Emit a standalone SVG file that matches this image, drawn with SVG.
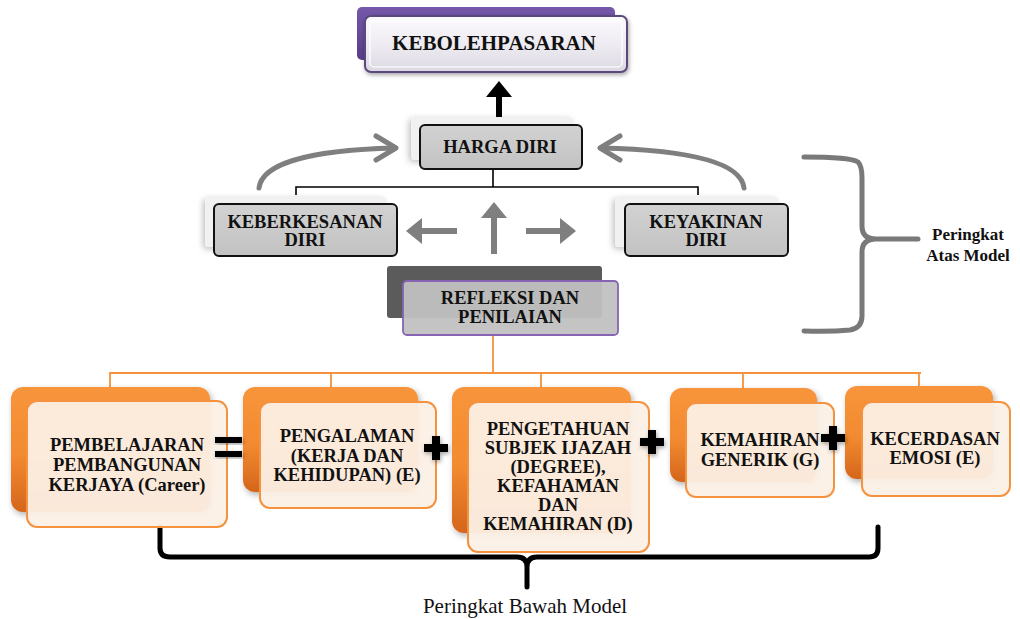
<svg xmlns="http://www.w3.org/2000/svg" width="1020" height="619" viewBox="0 0 1020 619">
<defs>
<linearGradient id="gOr" x1="0" y1="0" x2="0" y2="1"><stop offset="0" stop-color="#f8953b"/><stop offset="0.55" stop-color="#f28a30"/><stop offset="1" stop-color="#d4661c"/></linearGradient>
<linearGradient id="gPur" x1="0" y1="0" x2="0" y2="1"><stop offset="0" stop-color="#7658aa"/><stop offset="1" stop-color="#583c8a"/></linearGradient>
<linearGradient id="gTop" x1="0" y1="0" x2="0" y2="1"><stop offset="0" stop-color="#fbfafd"/><stop offset="0.5" stop-color="#eeecf2"/><stop offset="1" stop-color="#dcd8e3"/></linearGradient>
<linearGradient id="gGray" x1="0" y1="0" x2="0" y2="1"><stop offset="0" stop-color="#d2d2d2"/><stop offset="1" stop-color="#c2c2c2"/></linearGradient>
<filter id="sh" x="-20%" y="-20%" width="140%" height="150%"><feDropShadow dx="2" dy="3" stdDeviation="3" flood-color="#000" flood-opacity="0.3"/></filter>
<filter id="shs" x="-20%" y="-20%" width="140%" height="150%"><feDropShadow dx="1" dy="2" stdDeviation="2" flood-color="#000" flood-opacity="0.35"/></filter>
<filter id="glow" x="-20%" y="-30%" width="140%" height="160%"><feDropShadow dx="-2" dy="2" stdDeviation="3" flood-color="#000" flood-opacity="0.25"/></filter>
</defs>
<style>
.t{font-family:"Liberation Serif","Times New Roman",serif;font-weight:bold;font-size:18.5px;fill:#111;text-anchor:middle}
.ob{fill:url(#gOr);filter:url(#sh)}
.of{fill:#fcf0e6;fill-opacity:0.94;stroke:#f5923f;stroke-width:2}
.gb{fill:#f1f1f1;filter:url(#glow)}
.gf{fill:url(#gGray);stroke:#111;stroke-width:2}
.blk{fill:none;stroke:#000;stroke-width:1.6}
.org{fill:none;stroke:#f5923f;stroke-width:1.8}
.ga{fill:none;stroke:#7f7f7f;stroke-width:5;stroke-linecap:round;stroke-linejoin:round}
.gt{fill:#7f7f7f}
.op{fill:#000;filter:url(#shs)}
</style>

<g id="connectors">
  <rect x="496" y="96" width="6" height="22" fill="#000"/>
  <polygon points="499,81 486,97 512,97" fill="#000"/>
  <path class="blk" d="M493,169 V187 M296,195 V187 H698 V195"/>
  <path class="ga" d="M259,188 C262,162 315,150 394,148"/>
  <path class="ga" d="M376,136 L396,148 L376,160"/>
  <path class="ga" d="M744,188 C741,162 688,150 601,148"/>
  <path class="ga" d="M620,136 L600,148 L620,160"/>
  <rect class="gt" x="420" y="228" width="37" height="6"/>
  <polygon class="gt" points="406,231 422,218 422,244"/>
  <rect class="gt" x="491" y="217" width="6" height="37"/>
  <polygon class="gt" points="494,202 481,218 507,218"/>
  <rect class="gt" x="526" y="228" width="35" height="6"/>
  <polygon class="gt" points="576,231 560,218 560,244"/>
  <path class="org" d="M493,335 V373 M110,387 V373 H921 M331,373 V387 M541,373 V387 M743,373 V388 M919,373 V386"/>
  <path fill="none" stroke="#797979" stroke-width="5" stroke-linecap="round" d="M804,157 Q850,157 858,162 Q862,166 862,178 V226 Q862,239 876,239 H918 M876,239 Q862,239 862,252 V316 Q862,328 850,330 Q830,332 804,331"/>
  <path fill="none" stroke="#000" stroke-width="5" stroke-linecap="round" d="M160,527 V548 Q160,557 170,557 H517 Q527,557 527,567 V587 M527,567 Q527,557 537,557 H869 Q878,557 878,548 V527"/>
</g>

<g id="kebolehpasaran">
  <rect x="357" y="7" width="258" height="53" rx="5" fill="url(#gPur)"/>
  <rect x="365" y="16" width="262" height="56" rx="6" fill="url(#gTop)" stroke="#5a4a7c" stroke-width="2" filter="url(#shs)"/>
  <rect x="370" y="21" width="252" height="46" rx="4" fill="none" stroke="#ffffff" stroke-width="1.5" opacity="0.8"/>
  <text class="t" x="494" y="50" style="font-size:21px">KEBOLEHPASARAN</text>
</g>

<g id="harga-diri">
  <rect class="gb" x="411" y="117" width="162" height="43" rx="4"/>
  <rect class="gf" x="420" y="125" width="162" height="44" rx="5"/>
  <text class="t" x="500" y="153">HARGA DIRI</text>
</g>

<g id="keberkesanan-diri">
  <rect class="gb" x="205" y="197" width="181" height="50" rx="4"/>
  <rect class="gf" x="214" y="204" width="183" height="52" rx="5"/>
  <text class="t" x="305" y="228">KEBERKESANAN</text>
  <text class="t" x="305" y="246">DIRI</text>
</g>

<g id="keyakinan-diri">
  <rect class="gb" x="615" y="197" width="163" height="50" rx="4"/>
  <rect class="gf" x="625" y="204" width="163" height="52" rx="5"/>
  <text class="t" x="706" y="228">KEYAKINAN</text>
  <text class="t" x="706" y="246">DIRI</text>
</g>

<g id="refleksi">
  <rect x="387" y="266" width="215" height="52" rx="3" fill="#5b5b5b"/>
  <rect x="403" y="281" width="215" height="54" rx="4" fill="#c1c1c1" fill-opacity="0.95" stroke="#8664b4" stroke-width="1.8"/>
  <text class="t" x="510" y="304">REFLEKSI DAN</text>
  <text class="t" x="510" y="323">PENILAIAN</text>
</g>

<g id="pembelajaran">
  <rect class="ob" x="11" y="387" width="199" height="125" rx="12"/>
  <rect class="of" x="27" y="401" width="200" height="126" rx="10"/>
  <text class="t" x="127" y="451">PEMBELAJARAN</text>
  <text class="t" x="127" y="471">PEMBANGUNAN</text>
  <text class="t" x="127" y="491">KERJAYA (Career)</text>
</g>

<g id="pengalaman">
  <rect class="ob" x="243" y="387" width="175" height="105" rx="12"/>
  <rect class="of" x="260" y="402" width="176" height="106" rx="10"/>
  <text class="t" x="347" y="442">PENGALAMAN</text>
  <text class="t" x="347" y="462">(KERJA DAN</text>
  <text class="t" x="347" y="481">KEHIDUPAN) (E)</text>
</g>

<g id="pengetahuan">
  <rect class="ob" x="452" y="387" width="179" height="146" rx="12"/>
  <rect class="of" x="468" y="402" width="181" height="150" rx="10"/>
  <text class="t" x="558" y="435">PENGETAHUAN</text>
  <text class="t" x="558" y="454">SUBJEK IJAZAH</text>
  <text class="t" x="558" y="473">(DEGREE),</text>
  <text class="t" x="558" y="492">KEFAHAMAN</text>
  <text class="t" x="558" y="511">DAN</text>
  <text class="t" x="558" y="530">KEMAHIRAN (D)</text>
</g>

<g id="kemahiran-generik">
  <rect class="ob" x="670" y="388" width="147" height="94" rx="12"/>
  <rect class="of" x="686" y="403" width="148" height="94" rx="10"/>
  <text class="t" x="760" y="446">KEMAHIRAN</text>
  <text class="t" x="760" y="466">GENERIK (G)</text>
</g>

<g id="kecerdasan-emosi">
  <rect class="ob" x="845" y="386" width="148" height="93" rx="12"/>
  <rect class="of" x="862" y="402" width="148" height="94" rx="10"/>
  <text class="t" x="935" y="445">KECERDASAN</text>
  <text class="t" x="935" y="464">EMOSI (E)</text>
</g>

<g id="operators">
  <rect class="op" x="215" y="437" width="27" height="6"/>
  <rect class="op" x="215" y="451" width="27" height="6"/>
  <path class="op" d="M432,436 h8 v8 h8 v8 h-8 v8 h-8 v-8 h-8 v-8 h8 z"/>
  <path class="op" d="M648,430 h8 v8 h8 v8 h-8 v8 h-8 v-8 h-8 v-8 h8 z"/>
  <path class="op" d="M829,426 h8 v8 h8 v8 h-8 v8 h-8 v-8 h-8 v-8 h8 z"/>
</g>

<g id="labels">
  <text class="t" x="968" y="240" style="font-size:17px">Peringkat</text>
  <text class="t" x="968" y="261" style="font-size:17px">Atas Model</text>
  <text x="525" y="613" style="font-family:'Liberation Serif','Times New Roman',serif;font-size:21px;fill:#111;text-anchor:middle">Peringkat Bawah Model</text>
</g>
</svg>
